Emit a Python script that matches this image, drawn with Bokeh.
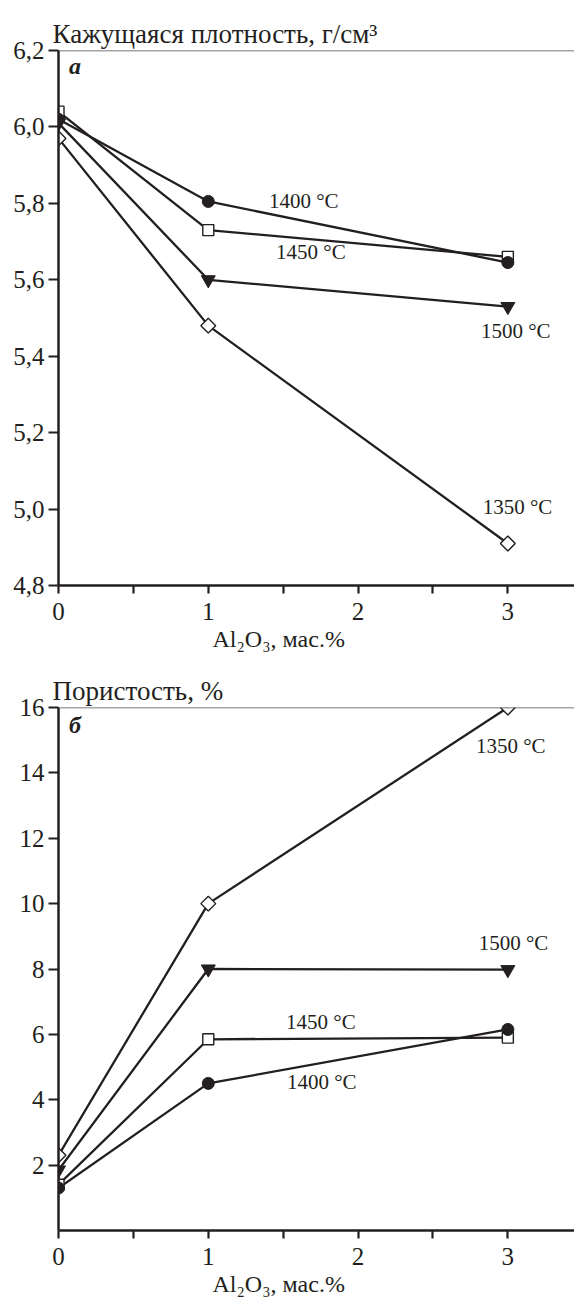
import numpy as np
from bokeh.plotting import figure
from bokeh.layouts import column
from bokeh.models import Range1d, FixedTicker, CustomJSTickFormatter, Label, Span, Title
from bokeh.embed import file_html
from bokeh.resources import INLINE

# ---------------- data ----------------
al2o3 = [0, 1, 3]
temp_labels = ["1350 °C", "1400 °C", "1450 °C", "1500 °C"]

density_1350 = [5.97, 5.48, 4.91]
density_1400 = [6.02, 5.805, 5.645]
density_1450 = [6.04, 5.73, 5.66]
density_1500 = [6.01, 5.60, 5.53]

porosity_1350 = [2.3, 10.0, 16.0]
porosity_1400 = [1.3, 4.5, 6.15]
porosity_1450 = [1.4, 5.85, 5.9]
porosity_1500 = [1.85, 8.0, 7.98]

density_ticks = [4.8, 5.0, 5.2, 5.4, 5.6, 5.8, 6.0, 6.2]
porosity_ticks = [2, 4, 6, 8, 10, 12, 14, 16]
x_ticks = [0, 0.5, 1, 1.5, 2, 2.5, 3]

title_density = "Кажущаяся плотность, г/см³"
title_porosity = "Пористость, %"
x_title = "Al₂O₃, мас.%"

# ---------------- style ----------------
INK = "#231f20"
FONT = "Liberation Serif"
TICK_FS = "25px"
TITLE_FS = "27px"
XT_FS = "24px"
LAB_FS = "21px"

X_FMT = "return (Math.abs(tick - Math.round(tick)) < 1e-6) ? String(Math.round(tick)) : '';"


def make_fig(height, ymin, ymax, yticks, yfmt, top_border, bottom_border, title):
    p = figure(width=574, height=height, output_backend="svg", toolbar_location=None,
               x_range=Range1d(0, 3.445), y_range=Range1d(ymin, ymax),
               min_border_left=58, min_border_right=0,
               min_border_top=top_border, min_border_bottom=bottom_border)
    p.outline_line_color = None
    p.grid.visible = False
    p.background_fill_color = "white"
    p.border_fill_color = "white"
    for ax in (p.xaxis[0], p.yaxis[0]):
        ax.axis_line_color = INK
        ax.axis_line_width = 2.5
        ax.major_tick_line_color = INK
        ax.major_tick_line_width = 2.2
        ax.major_tick_in = 0
        ax.minor_tick_line_color = None
        ax.major_label_text_font = FONT
        ax.major_label_text_font_size = TICK_FS
        ax.major_label_text_color = INK
    p.yaxis[0].ticker = FixedTicker(ticks=yticks)
    p.yaxis[0].major_tick_out = 10
    p.yaxis[0].major_label_standoff = 4
    p.yaxis[0].formatter = CustomJSTickFormatter(code=yfmt)
    p.xaxis[0].ticker = FixedTicker(ticks=x_ticks)
    p.xaxis[0].major_tick_out = 8
    p.xaxis[0].major_label_standoff = 9
    p.xaxis[0].formatter = CustomJSTickFormatter(code=X_FMT)
    p.add_layout(Span(location=ymax, dimension="width", line_color="#4a4a4a", line_width=1.4))
    # chart title (y quantity) above the frame
    p.add_layout(Title(text=title, align="left", offset=-6, standoff=4,
                       text_font=FONT, text_font_size=TITLE_FS, text_font_style="normal",
                       text_color=INK), "above")
    # x-axis title below the axis
    p.add_layout(Title(text=x_title, align="left", offset=154, standoff=2,
                       text_font=FONT, text_font_size=XT_FS, text_font_style="normal",
                       text_color=INK), "below")
    return p


def draw_series(p, ys):
    y1350, y1400, y1450, y1500 = ys
    for y in (y1350, y1400, y1450, y1500):
        p.line(al2o3, y, line_color=INK, line_width=2.3)
    p.scatter(al2o3, y1350, marker="square", angle=np.pi / 4, size=10.5,
              fill_color="white", line_color=INK, line_width=1.4)
    p.scatter(al2o3, y1500, marker="inverted_triangle", size=14,
              fill_color=INK, line_color=INK, line_width=1)
    p.scatter(al2o3, y1450, marker="square", size=11,
              fill_color="white", line_color=INK, line_width=1.4)
    p.scatter(al2o3, y1400, marker="circle", size=12,
              fill_color=INK, line_color=INK, line_width=1)


def add_label(p, x, y, text, size=LAB_FS, style="normal"):
    p.add_layout(Label(x=x, y=y, text=text, text_font=FONT, text_font_size=size,
                       text_color=INK, text_align="left", text_baseline="alphabetic",
                       text_font_style=style))


# ---------------- top chart: apparent density ----------------
p1 = make_fig(657, 4.8, 6.2, density_ticks,
              "return tick.toFixed(1).replace('.', ',');",
              50, 72, title_density)
draw_series(p1, (density_1350, density_1400, density_1450, density_1500))
add_label(p1, 0.07, 6.16, "а", size="24px", style="bold italic")
add_label(p1, 1.405, 5.806, temp_labels[1])
add_label(p1, 1.452, 5.672, temp_labels[2])
add_label(p1, 2.82, 5.467, temp_labels[3])
add_label(p1, 2.832, 5.005, temp_labels[0])

# ---------------- bottom chart: porosity ----------------
p2 = make_fig(640, 0, 16, porosity_ticks,
              "return String(Math.round(tick));",
              50, 65, title_porosity)
draw_series(p2, (porosity_1350, porosity_1400, porosity_1450, porosity_1500))
add_label(p2, 0.07, 15.45, "б", size="24px", style="bold italic")
add_label(p2, 2.787, 14.81, temp_labels[0])
add_label(p2, 2.805, 8.80, temp_labels[3])
add_label(p2, 1.519, 6.38, temp_labels[2])
add_label(p2, 1.525, 4.53, temp_labels[1])

layout = column(p1, p2, spacing=0)
open("out.html", "w").write(file_html(layout, INLINE))
